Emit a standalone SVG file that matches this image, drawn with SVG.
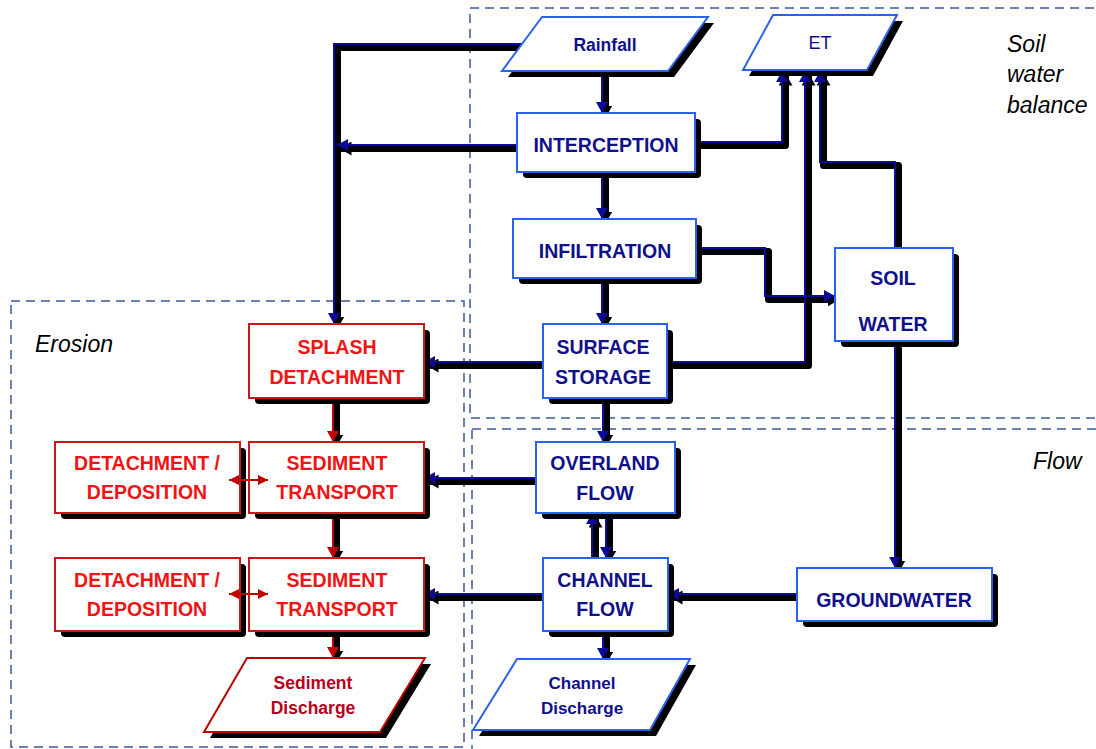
<svg xmlns="http://www.w3.org/2000/svg" width="1096" height="749" viewBox="0 0 1096 749">
<style>
text{font-family:"Liberation Sans",Arial,sans-serif;text-anchor:middle}
.t{font-weight:bold;font-size:19.5px;fill:#10108a}
.tr{font-weight:bold;font-size:19.5px;fill:#f01414}
.lab{font-style:italic;font-size:23px;fill:#000;text-anchor:start}
.bx{fill:#fff;stroke:#2a62f0;stroke-width:2}
.rx{fill:#fff;stroke:#c81818;stroke-width:2}
.sd{fill:#000}
.dash{fill:none;stroke:#3b5b98;stroke-width:1.5;stroke-dasharray:9 6}
.sh{fill:none;stroke:#000;stroke-width:7;stroke-linejoin:round}
.cb{fill:none;stroke:#0b0b98;stroke-width:2}
.cr{fill:none;stroke:#c00000;stroke-width:2}
</style>
<defs>
<marker id="mb" markerUnits="userSpaceOnUse" markerWidth="12" markerHeight="12" refX="11" refY="6" orient="auto"><path d="M0,0 L11,6 L0,12 z" fill="#0b0b98"/></marker>
<marker id="mk" markerUnits="userSpaceOnUse" markerWidth="14" markerHeight="14" refX="11" refY="7" orient="auto"><path d="M0,0 L12,7 L0,14 z" fill="#000"/></marker>
<marker id="mr" markerUnits="userSpaceOnUse" markerWidth="12" markerHeight="12" refX="11" refY="6" orient="auto"><path d="M0,0 L11,6 L0,12 z" fill="#c00000"/></marker>
<marker id="mr2" markerUnits="userSpaceOnUse" markerWidth="12" markerHeight="12" refX="10" refY="5" orient="auto-start-reverse"><path d="M0,0 L10,5 L0,10 z" fill="#c00000"/></marker>
<marker id="mg2" markerUnits="userSpaceOnUse" markerWidth="12" markerHeight="12" refX="10" refY="5" orient="auto-start-reverse"><path d="M0,0 L10,5 L0,10 z" fill="#888"/></marker>
<filter id="blur" x="-20%" y="-50%" width="140%" height="200%"><feGaussianBlur stdDeviation="1.5"/></filter>
</defs>

<g id="regions">
<rect class="dash" x="470" y="8" width="640" height="410"/>
<rect class="dash" x="472" y="429" width="640" height="340"/>
<rect class="dash" x="11" y="301" width="453" height="446"/>
<text class="lab" x="1007" y="52">Soil</text>
<text class="lab" x="1007" y="82">water</text>
<text class="lab" x="1007" y="113">balance</text>
<text class="lab" x="1033" y="469">Flow</text>
<text class="lab" x="35" y="352">Erosion</text>
</g>

<g id="connectors">
<g transform="translate(3.5,3.5)">
<path class="sh" d="M522,44 H334 V324" marker-end="url(#mk)"/>
<path class="sh" d="M517,145 H337" marker-end="url(#mk)"/>
<path class="sh" d="M602,71 V113" marker-end="url(#mk)"/>
<path class="sh" d="M602,172 V219" marker-end="url(#mk)"/>
<path class="sh" d="M602,278 V324" marker-end="url(#mk)"/>
<path class="sh" d="M696,248 H765 V296 H835" marker-end="url(#mk)"/>
<path class="sh" d="M695,142 H782 V71" marker-end="url(#mk)"/>
<path class="sh" d="M667,362 H805 V71" marker-end="url(#mk)"/>
<path class="sh" d="M895,248 V162 H820 V71" marker-end="url(#mk)"/>
<path class="sh" d="M895,341 V568" marker-end="url(#mk)"/>
<path class="sh" d="M543,362 H424" marker-end="url(#mk)"/>
<path class="sh" d="M603,398 V442" marker-end="url(#mk)"/>
<path class="sh" d="M536,478 H424" marker-end="url(#mk)"/>
<path class="sh" d="M592,558 V513" marker-end="url(#mk)"/>
<path class="sh" d="M606,513 V558" marker-end="url(#mk)"/>
<path class="sh" d="M543,594 H424" marker-end="url(#mk)"/>
<path class="sh" d="M797,594 H668" marker-end="url(#mk)"/>
<path class="sh" d="M603,631 V659" marker-end="url(#mk)"/>
<path class="sh" d="M333,398 V442" marker-end="url(#mk)"/>
<path class="sh" d="M333,513 V558" marker-end="url(#mk)"/>
<path class="sh" d="M333,631 V658" marker-end="url(#mk)"/>
</g>
<path class="cb" d="M522,44 H334 V324" marker-end="url(#mb)"/>
<path class="cb" d="M517,145 H337" marker-end="url(#mb)"/>
<path class="cb" d="M602,71 V113" marker-end="url(#mb)"/>
<path class="cb" d="M602,172 V219" marker-end="url(#mb)"/>
<path class="cb" d="M602,278 V324" marker-end="url(#mb)"/>
<path class="cb" d="M696,248 H765 V296 H835" marker-end="url(#mb)"/>
<path class="cb" d="M695,142 H782 V71" marker-end="url(#mb)"/>
<path class="cb" d="M667,362 H805 V71" marker-end="url(#mb)"/>
<path class="cb" d="M895,248 V162 H820 V71" marker-end="url(#mb)"/>
<path class="cb" d="M895,341 V568" marker-end="url(#mb)"/>
<path class="cb" d="M543,362 H424" marker-end="url(#mb)"/>
<path class="cb" d="M603,398 V442" marker-end="url(#mb)"/>
<path class="cb" d="M536,478 H424" marker-end="url(#mb)"/>
<path class="cb" d="M592,558 V513" marker-end="url(#mb)"/>
<path class="cb" d="M606,513 V558" marker-end="url(#mb)"/>
<path class="cb" d="M543,594 H424" marker-end="url(#mb)"/>
<path class="cb" d="M797,594 H668" marker-end="url(#mb)"/>
<path class="cb" d="M603,631 V659" marker-end="url(#mb)"/>
<path class="cr" d="M333,398 V442" marker-end="url(#mr)"/>
<path class="cr" d="M333,513 V558" marker-end="url(#mr)"/>
<path class="cr" d="M333,631 V658" marker-end="url(#mr)"/>
</g>

<g id="rainfall">
<polygon class="sd" points="548,23 714,23 674,77 508,77"/>
<polygon class="bx" points="542,17 708,17 668,71 502,71"/>
<text x="605" y="51" style="font-weight:bold;font-size:17.5px;fill:#10108a">Rainfall</text>
</g>
<g id="et">
<polygon class="sd" points="779,21 903,21 873,76 749,76"/>
<polygon class="bx" points="773,15 897,15 867,70 743,70"/>
<text x="820" y="49" style="font-size:18px;fill:#10108a">ET</text>
</g>
<g id="interception">
<rect class="sd" x="523" y="119" width="178" height="59" rx="4"/>
<rect class="bx" x="517" y="113" width="178" height="59"/>
<text class="t" x="606" y="152">INTERCEPTION</text>
</g>
<g id="infiltration">
<rect class="sd" x="519" y="225" width="183" height="59" rx="4"/>
<rect class="bx" x="513" y="219" width="183" height="59"/>
<text class="t" x="605" y="258">INFILTRATION</text>
</g>
<g id="surface-storage">
<rect class="sd" x="549" y="330" width="124" height="74" rx="4"/>
<rect class="bx" x="543" y="324" width="124" height="74"/>
<text class="t" x="603" y="354">SURFACE</text>
<text class="t" x="603" y="384">STORAGE</text>
</g>
<g id="soil-water">
<rect class="sd" x="841" y="254" width="118" height="93" rx="4"/>
<rect class="bx" x="835" y="248" width="118" height="93"/>
<text class="t" x="893" y="285">SOIL</text>
<text class="t" x="893" y="331">WATER</text>
</g>
<g id="overland-flow">
<rect class="sd" x="542" y="448" width="139" height="71" rx="4"/>
<rect class="bx" x="536" y="442" width="139" height="71"/>
<text class="t" x="605" y="470">OVERLAND</text>
<text class="t" x="605" y="500">FLOW</text>
</g>
<g id="channel-flow">
<rect class="sd" x="549" y="564" width="125" height="73" rx="4"/>
<rect class="bx" x="543" y="558" width="125" height="73"/>
<text class="t" x="605" y="587">CHANNEL</text>
<text class="t" x="605" y="616">FLOW</text>
</g>
<g id="groundwater">
<rect class="sd" x="803" y="574" width="195" height="53" rx="4"/>
<rect class="bx" x="797" y="568" width="195" height="53"/>
<text class="t" x="894" y="607">GROUNDWATER</text>
</g>
<g id="channel-discharge">
<polygon class="sd" points="523,665 696,665 656,736 479,736"/>
<polygon class="bx" points="517,659 690,659 650,730 473,730"/>
<text x="582" y="689" style="font-weight:bold;font-size:17px;fill:#10108a">Channel</text>
<text x="582" y="714" style="font-weight:bold;font-size:17px;fill:#10108a">Discharge</text>
</g>
<g id="splash-detachment">
<rect class="sd" x="255" y="330" width="175" height="74" rx="4"/>
<rect class="rx" x="249" y="324" width="175" height="74"/>
<text class="tr" x="337" y="354">SPLASH</text>
<text class="tr" x="337" y="384">DETACHMENT</text>
</g>
<g id="detachment-deposition-1">
<rect class="sd" x="61" y="448" width="185" height="71" rx="4"/>
<rect class="rx" x="55" y="442" width="185" height="71"/>
<text class="tr" x="147" y="470">DETACHMENT /</text>
<text class="tr" x="147" y="499">DEPOSITION</text>
</g>
<g id="sediment-transport-1">
<rect class="sd" x="255" y="448" width="175" height="71" rx="4"/>
<rect class="rx" x="249" y="442" width="175" height="71"/>
<text class="tr" x="337" y="470">SEDIMENT</text>
<text class="tr" x="337" y="499">TRANSPORT</text>
</g>
<g id="detachment-deposition-2">
<rect class="sd" x="61" y="564" width="185" height="73" rx="4"/>
<rect class="rx" x="55" y="558" width="185" height="73"/>
<text class="tr" x="147" y="587">DETACHMENT /</text>
<text class="tr" x="147" y="616">DEPOSITION</text>
</g>
<g id="sediment-transport-2">
<rect class="sd" x="255" y="564" width="175" height="73" rx="4"/>
<rect class="rx" x="249" y="558" width="175" height="73"/>
<text class="tr" x="337" y="587">SEDIMENT</text>
<text class="tr" x="337" y="616">TRANSPORT</text>
</g>
<g id="sediment-discharge">
<polygon class="sd" points="253,664 431,664 386,738 210,738"/>
<polygon class="rx" points="247,658 425,658 380,732 204,732" style="stroke:#c00000"/>
<text x="313" y="689" style="font-weight:bold;font-size:17.5px;fill:#b8001c">Sediment</text>
<text x="313" y="714" style="font-weight:bold;font-size:17.5px;fill:#b8001c">Discharge</text>
</g>

<g id="exchange-connectors">
<path d="M232,483 H270" stroke="#888" stroke-width="2" fill="none" filter="url(#blur)" marker-start="url(#mg2)" marker-end="url(#mg2)"/>
<path d="M229,480 H268" class="cr" marker-start="url(#mr2)" marker-end="url(#mr2)"/>
<path d="M232,597 H270" stroke="#888" stroke-width="2" fill="none" filter="url(#blur)" marker-start="url(#mg2)" marker-end="url(#mg2)"/>
<path d="M229,594 H268" class="cr" marker-start="url(#mr2)" marker-end="url(#mr2)"/>
</g>
</svg>
